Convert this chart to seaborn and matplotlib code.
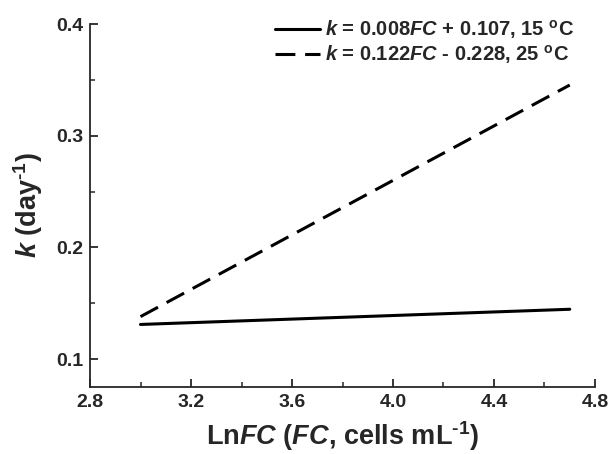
import pandas as pd
import matplotlib
matplotlib.use("Agg")
import matplotlib.pyplot as plt
import seaborn as sns
from matplotlib.ticker import MultipleLocator

# fitted lines, end points only (x = Ln FC)
ln_fc = [3.0, 4.7]
k_15 = [0.131, 0.1446]
k_25 = [0.138, 0.3454]
labels = [
    r"$\mathit{k}$ = 0.008$\mathit{FC}$ + 0.107, 15 $^{\mathrm{o}}$C",
    r"$\mathit{k}$ = 0.122$\mathit{FC}$ - 0.228, 25 $^{\mathrm{o}}$C",
]

sns.set_style("ticks")
plt.rcParams["font.family"] = ["Liberation Sans", "DejaVu Sans"]
plt.rcParams["font.weight"] = "bold"
plt.rcParams["mathtext.fontset"] = "custom"
plt.rcParams["mathtext.rm"] = "Liberation Sans:bold"
plt.rcParams["mathtext.it"] = "Liberation Sans:italic:bold"
plt.rcParams["mathtext.bf"] = "Liberation Sans:bold"

df = pd.DataFrame({"x": ln_fc + ln_fc,
                   "k": k_15 + k_25,
                   "fit": [labels[0]] * 2 + [labels[1]] * 2})

fig = plt.figure(figsize=(6.09, 4.54), dpi=100)
ax = fig.add_axes([0.1478, 0.1476, 0.977 - 0.1478, 0.947 - 0.1476])

sns.lineplot(data=df[df.fit == labels[0]], x="x", y="k", color="black",
             lw=2.2, label=labels[0], ax=ax)
sns.lineplot(data=df[df.fit == labels[1]], x="x", y="k", color="black",
             lw=2.2, ls=(0, (6.5, 3.2)), label=labels[1], ax=ax)

ax.set_xlim(2.8, 4.8)
ax.set_ylim(0.075, 0.4)
ax.xaxis.set_minor_locator(MultipleLocator(0.2))
ax.yaxis.set_minor_locator(MultipleLocator(0.05))
ax.set_xticks([2.8, 3.2, 3.6, 4.0, 4.4, 4.8])
ax.set_xticklabels(["2.8", "3.2", "3.6", "4.0", "4.4", "4.8"])
ax.set_yticks([0.1, 0.2, 0.3, 0.4])
ax.set_yticklabels(["0.1", "0.2", "0.3", "0.4"])

ax.tick_params(which="major", direction="in", length=6, width=1.3,
               labelsize=14, pad=5)
ax.tick_params(which="minor", direction="in", length=3.5, width=1.1)
for s in ["top", "right"]:
    ax.spines[s].set_visible(False)
for s in ["left", "bottom"]:
    ax.spines[s].set_linewidth(1.3)

ax.set_xlabel("Ln$\\mathit{FC}$ ($\\mathit{FC}$, cells mL$^{\\mathrm{\u20101}}$)",
              fontsize=19.5, fontweight="bold", labelpad=6)
ax.set_ylabel("$\\mathit{k}$ (day$^{\\mathrm{\u20101}}$)",
              fontsize=19.5, fontweight="bold", labelpad=8)

ax.legend(loc="upper right", bbox_to_anchor=(0.982, 1.05), frameon=False,
          fontsize=14.5, handlelength=2.2, handletextpad=0.25, labelspacing=0.12,
          borderaxespad=0.2)

fig.savefig("out.png", dpi=100)
